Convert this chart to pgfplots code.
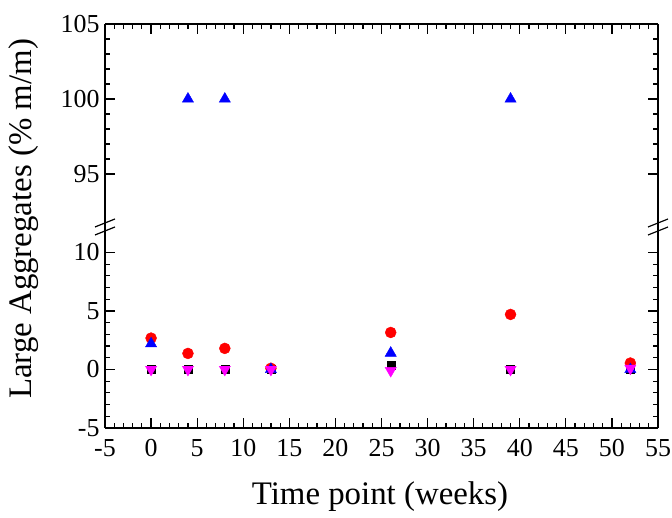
\documentclass[border=0pt]{standalone}
\usepackage{pgfplots}
\pgfplotsset{compat=1.18}
\usepackage{fontspec}
\setmainfont{Liberation Serif}
\definecolor{mag}{RGB}{255,0,255}
\definecolor{rd}{RGB}{255,0,0}
\definecolor{bl}{RGB}{0,0,255}
\begin{document}
\begin{tikzpicture}[x=1bp,y=1bp]
\pgfplotsset{
 common/.style={scale only axis, width=553bp, xmin=-5, xmax=55,
   xtick={-5,0,...,55}, minor x tick num=4, minor y tick num=4,
   tick align=inside, major tick length=10bp, minor tick length=5bp,
   every tick/.style={black, line width=1.2bp},
   axis line style={line width=1.5bp},
   /pgf/number format/assume math mode=true,
   tick label style={font=\fontsize{26}{26}\selectfont},
   xticklabel style={yshift=-8bp},
   yticklabel style={xshift=-2bp},
   axis y line*=box, ytick pos=both},
 sq/.style={only marks, mark=square*, mark size=4bp, black},
 ci/.style={only marks, mark=*, mark size=5.5bp, rd},
 tr/.style={only marks, mark=triangle*, mark size=6.5bp, bl},
 td/.style={only marks, mark=triangle*, mark size=6.5bp, mag, mark options={rotate=180}},
}
\path[use as bounding box] (0,0) rectangle (672,518);
\begin{axis}[common, at={(105bp,90bp)}, anchor=south west, height=199bp,
  ymin=-5, ymax=12, ytick={-5,0,5,10}, axis x line*=bottom, xtick pos=bottom]
\addplot[sq] coordinates {(0,0) (4,0) (8,0) (13,0) (26,0.4) (39,0) (52,0)};
\addplot[ci] coordinates {(0,2.68) (4,1.37) (8,1.8) (13,0.1) (26,3.16) (39,4.7) (52,0.55)};
\addplot[tr] coordinates {(0,2.2) (13,0) (26,1.4) (52,0)};
\addplot[td] coordinates {(0,0) (4,0) (8,0) (13,0) (26,-0.1) (39,0) (52,0.1)};
\end{axis}
\begin{axis}[common, at={(105bp,289bp)}, anchor=south west, height=205bp,
  ymin=91.33, ymax=105, ytick={95,100,105}, xticklabels={},
  axis x line*=top, xtick pos=top]
\addplot[tr] coordinates {(4,100) (8,100) (39,100)};
\end{axis}
\foreach \xx in {105,658}{
  \draw[line width=1.2bp] (\xx-10,291) -- (\xx+10,299);
  \draw[line width=1.2bp] (\xx-10,283) -- (\xx+10,291);
}
\node[rotate=90, font=\fontsize{33}{33}\selectfont] at (24,299) {Large Aggregates (\% m/m)};
\node[anchor=base, font=\fontsize{33}{33}\selectfont] at (380,13) {Time point (weeks)};
\end{tikzpicture}
\end{document}
